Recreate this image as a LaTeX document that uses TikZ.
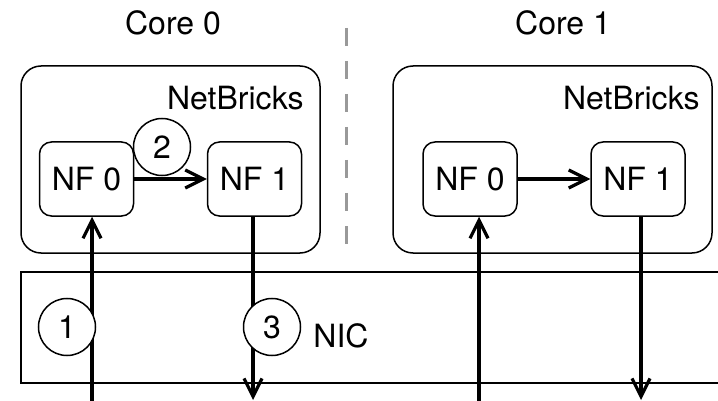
\documentclass[tikz,border=0pt]{standalone}
\usepackage{fontspec}
\setmainfont{TeX Gyre Heros}
\usetikzlibrary{arrows.meta}

\begin{document}
\begin{tikzpicture}[x=0.5pt, y=-0.5pt,
	every node/.style={font=\fontsize{16}{19}\selectfont},
	bricks/.style={draw, line width=0.75pt, rounded corners=10pt, minimum width=149.5pt, minimum height=93.5pt},
	nfbox/.style={draw, line width=0.75pt, rounded corners=6pt, minimum width=47pt, minimum height=37pt},
	num/.style={draw, circle, fill=white, line width=0.75pt, minimum size=28.5pt, inner sep=0pt},
	flow/.style={line width=1.6pt, -{Straight Barb[length=9pt,width=9pt]}}]
			\useasboundingbox (0,0) rectangle (718,401);
			\node[anchor=base] (core0) at (173,35) {Core 0};
			\node[anchor=base] (core1) at (563,35) {Core 1};
			\draw[gray!80, line width=1.5pt, dash pattern=on 9pt off 7.5pt] (346,28) -- (346,246);
			\node[bricks] (nb0) at (170.5,159.5) {};
			\node[bricks, minimum width=159.5pt] (nb1) at (552.5,159.5) {};
			\node[anchor=base east, inner sep=0pt] (nblabel0) at (304,110) {NetBricks};
			\node[anchor=base east, inner sep=0pt] (nblabel1) at (700,110) {NetBricks};
			\node[nfbox] (nf0a) at (86.5,179) {NF 0};
			\node[nfbox] (nf1a) at (254.5,179) {NF 1};
			\node[nfbox] (nf0b) at (470,179) {NF 0};
			\node[nfbox] (nf1b) at (638,179) {NF 1};
			\draw[line width=0.75pt] (718,272) -- (21,272) -- (21,383) -- (718,383);
			\node[anchor=base west, inner sep=0pt] (nic) at (313,347) {NIC};
			\coordinate (in0) at (92,401);
			\coordinate (out0) at (253,400);
			\coordinate (in1) at (479,401);
			\coordinate (out1) at (641,400);
			\draw[flow] (in0) -- (in0 |- nf0a.south);
			\draw[flow] (out0 |- nf1a.south) -- (out0);
			\draw[flow] (in1) -- (in1 |- nf0b.south);
			\draw[flow] (out1 |- nf1b.south) -- (out1);
			\draw[flow] (nf0a.east) -- (nf1a.west);
			\draw[flow] (nf0b.east) -- (nf1b.west);
			\node[num] (step1) at (67,327) {1};
			\node[num] (step2) at (162,147) {2};
			\node[num] (step3) at (272,327) {3};
\end{tikzpicture}
\end{document}
